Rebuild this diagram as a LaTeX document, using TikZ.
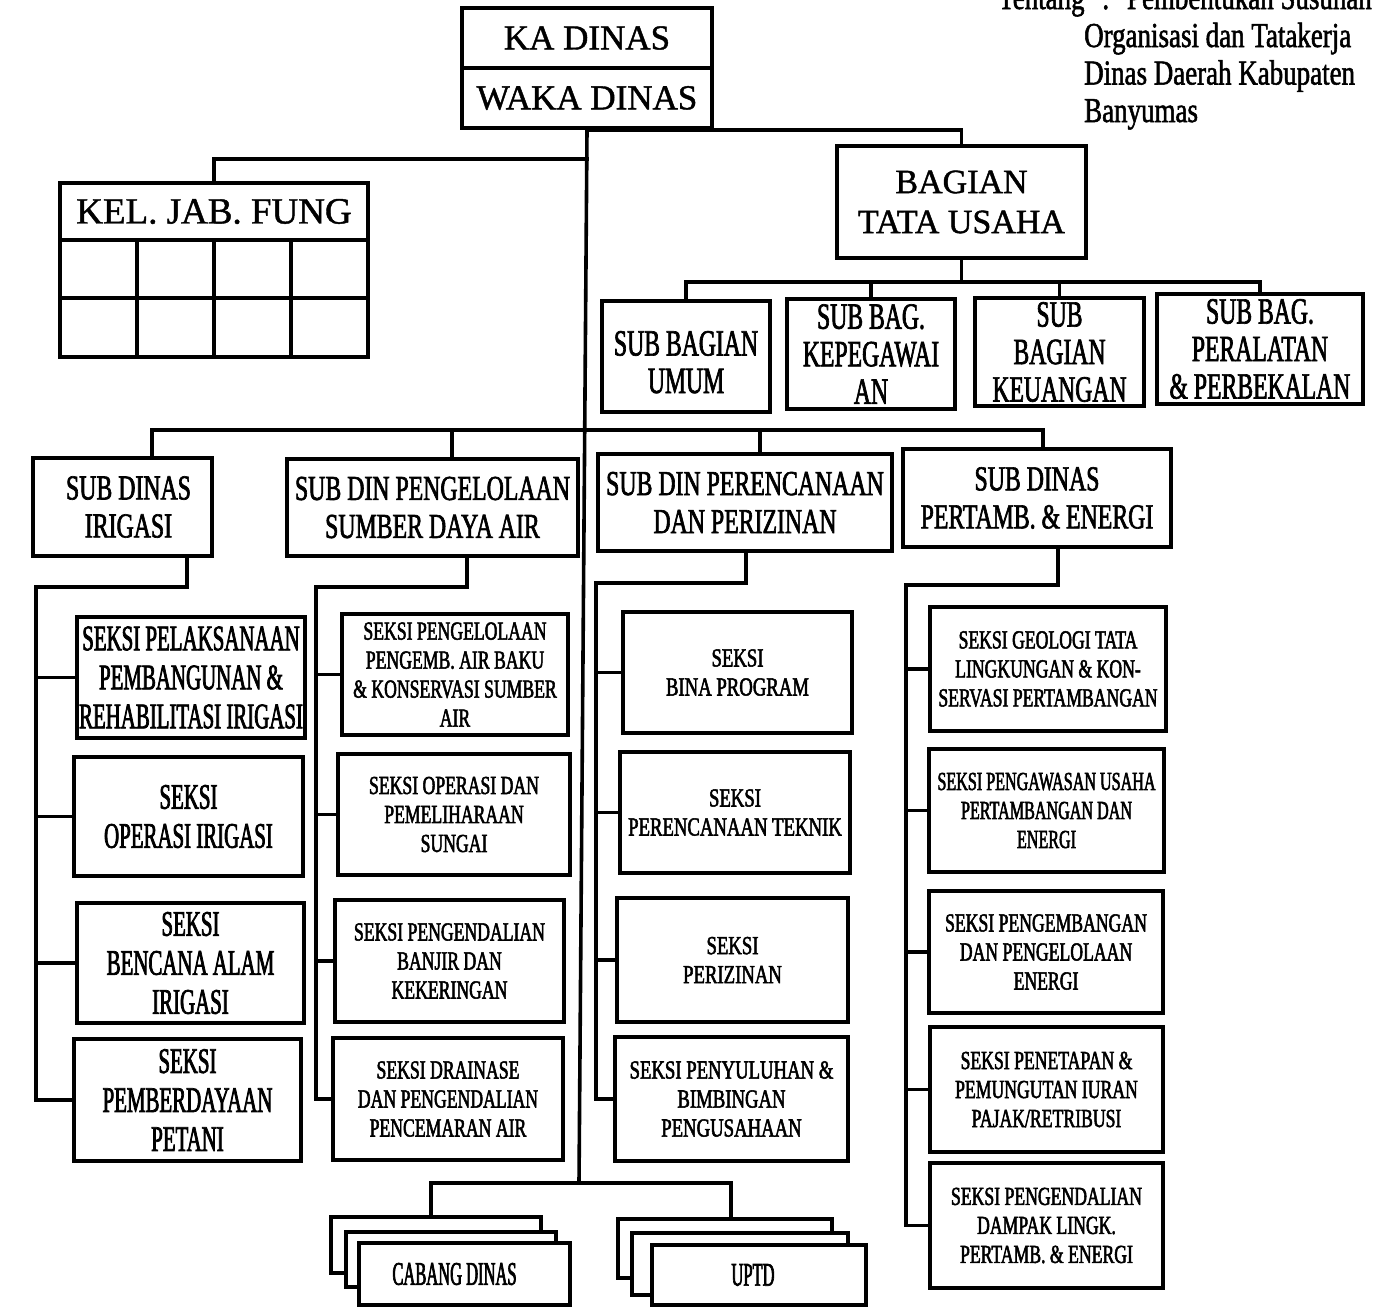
\documentclass[tikz,border=0pt]{standalone}
\usepackage{fontspec}
\setmainfont{Liberation Serif}
\newfontfamily\fTop{Liberation Serif}[FakeBold=1.2]
\newfontfamily\fSubdin{Liberation Serif}[FakeStretch=0.68,FakeBold=1.8]
\newfontfamily\fSubbag{Liberation Serif}[FakeStretch=0.64,FakeBold=1.8]
\newfontfamily\fSekL{Liberation Serif}[FakeStretch=0.58,FakeBold=2]
\newfontfamily\fSekS{Liberation Serif}[FakeStretch=0.68,FakeBold=2]
\newfontfamily\fSekR{Liberation Serif}[FakeStretch=0.72,FakeBold=2]
\newfontfamily\fSekT{Liberation Serif}[FakeStretch=0.62,FakeBold=2]
\newfontfamily\fCab{Liberation Serif}[FakeStretch=0.5,FakeBold=2]
\newfontfamily\fKet{Liberation Serif}[FakeStretch=0.77,FakeBold=1.5]
\begin{document}
\begin{tikzpicture}[x=1pt,y=-1pt,
  box/.style={draw, line width=4pt, fill=white, inner sep=0pt, align=center},
  wh/.style 2 args={minimum width=#1pt, minimum height=#2pt},
  cell/.style={draw, line width=4pt, inner sep=0pt, minimum width=77pt, minimum height=58.5pt},
  conn/.style={line width=3.6pt, line cap=rect},
  topf/.style={font={\fTop\fontsize{35}{40}\selectfont}},
  kelf/.style={font={\fTop\fontsize{37}{40}\selectfont}},
  tuf/.style={font={\fTop\fontsize{34}{40}\selectfont}},
  subbagf/.style={font={\fSubbag\fontsize{37}{37.5}\selectfont}},
  subdinf/.style={font={\fSubdin\fontsize{35}{38}\selectfont}},
  sekL/.style={font={\fSekL\fontsize{36}{39}\selectfont}},
  sekS/.style={font={\fSekS\fontsize{26}{29}\selectfont}},
  sekR/.style={font={\fSekR\fontsize{26}{29}\selectfont}},
  sekT/.style={font={\fSekT\fontsize{26}{29}\selectfont}},
  cabf/.style={font={\fCab\fontsize{33}{36}\selectfont}},
  ket/.style={inner sep=0pt, font={\fKet\fontsize{35}{38}\selectfont}}
]
\useasboundingbox (0,0) rectangle (1374,1315);
\fill[white] (0,0) rectangle (1374,1315);

% header text
\node[ket, anchor=base east] (ket1) at (1372,9) {Tentang\enspace:\enspace Pembentukan Susunan};
\node[ket, anchor=base west] (ket2) at (1084,47) {Organisasi dan Tatakerja};
\node[ket, anchor=base west] (ket3) at (1084,84.5) {Dinas Daerah Kabupaten};
\node[ket, anchor=base west] (ket4) at (1084,122) {Banyumas};

% top
\node[box, topf, wh={250}{60}] (ka) at (587,38) {KA DINAS};
\node[box, topf, wh={250}{60}] (waka) at (587,98) {WAKA DINAS};
\node[box, kelf, wh={308}{57}] (kel) at (214,211.5) {KEL. JAB. FUNG};
\foreach \c [count=\i] in {98.5,175.5,252.5,329.5} {
  \node[cell] (kca\i) at (\c,269) {};
  \node[cell] (kcb\i) at (\c,327.5) {};
}
\node[box, tuf, wh={249}{112}] (tu) at (961.5,202) {BAGIAN\\TATA USAHA};

% sub bagian
\node[box, subbagf, wh={168}{111}] (umum) at (686,356.5) {\raisebox{-16.5pt}[0pt][0pt]{\begin{tabular}{@{}c@{}}SUB BAGIAN\\UMUM\end{tabular}}};
\node[box, subbagf, wh={168}{110}] (kepeg) at (871,354) {SUB BAG.\\KEPEGAWAI\\AN};
\node[box, subbagf, wh={169}{108}] (keu) at (1059.5,352) {SUB\\BAGIAN\\KEUANGAN};
\node[box, subbagf, wh={206}{110}] (peral) at (1260,349) {SUB BAG.\\PERALATAN\\\& PERBEKALAN};

% sub dinas
\node[box, subdinf, wh={179}{98}] (irig) at (122.5,507) {\hspace*{12pt}SUB DINAS\\\hspace*{12pt}IRIGASI};
\node[box, subdinf, wh={291}{97}] (peng) at (432.5,507.5) {SUB DIN PENGELOLAAN\\SUMBER DAYA AIR};
\node[box, subdinf, wh={294}{97}] (pere) at (745,502.5) {SUB DIN PERENCANAAN\\DAN PERIZINAN};
\node[box, subdinf, wh={268}{98}] (pert) at (1037,498) {SUB DINAS\\PERTAMB. \& ENERGI};

% seksi irigasi
\node[box, sekL, wh={228}{121}] (i1) at (191,677.5) {SEKSI PELAKSANAAN\\PEMBANGUNAN \&\\REHABILITASI IRIGASI};
\node[box, sekL, wh={229}{119}] (i2) at (188.5,816.5) {SEKSI\\OPERASI IRIGASI};
\node[box, sekL, wh={227}{120}] (i3) at (190.5,963) {SEKSI\\BENCANA ALAM\\IRIGASI};
\node[box, sekL, wh={227}{122}] (i4) at (187.5,1100) {SEKSI\\PEMBERDAYAAN\\PETANI};

% seksi pengelolaan
\node[box, sekS, wh={226}{121}] (p1) at (455,674.5) {SEKSI PENGELOLAAN\\PENGEMB. AIR BAKU\\\& KONSERVASI SUMBER\\AIR};
\node[box, sekS, wh={232}{121}] (p2) at (454,814.5) {SEKSI OPERASI DAN\\PEMELIHARAAN\\SUNGAI};
\node[box, sekS, wh={229}{122}] (p3) at (449.5,961) {SEKSI PENGENDALIAN\\BANJIR DAN\\KEKERINGAN};
\node[box, sekS, wh={230}{122}] (p4) at (448,1099) {SEKSI DRAINASE\\DAN PENGENDALIAN\\PENCEMARAN AIR};

% seksi perencanaan
\node[box, sekR, wh={229}{121}] (r1) at (737.5,672.5) {SEKSI\\BINA PROGRAM};
\node[box, sekR, wh={230}{121}] (r2) at (735,812.5) {SEKSI\\PERENCANAAN TEKNIK};
\node[box, sekR, wh={231}{124}] (r3) at (732.5,960) {SEKSI\\PERIZINAN};
\node[box, sekR, wh={233}{124}] (r4) at (731.5,1099) {SEKSI PENYULUHAN \&\\BIMBINGAN\\PENGUSAHAAN};

% seksi pertambangan
\node[box, sekS, wh={236}{124}] (t1) at (1048,669) {SEKSI GEOLOGI TATA\\LINGKUNGAN \& KON-\\SERVASI PERTAMBANGAN};
\node[box, sekT, wh={235}{123}] (t2) at (1046.5,810.5) {SEKSI PENGAWASAN USAHA\\PERTAMBANGAN DAN\\ENERGI};
\node[box, sekS, wh={234}{122}] (t3) at (1046,952) {SEKSI PENGEMBANGAN\\DAN PENGELOLAAN\\ENERGI};
\node[box, sekS, wh={233}{125}] (t4) at (1046.5,1089.5) {SEKSI PENETAPAN \&\\PEMUNGUTAN IURAN\\PAJAK/RETRIBUSI};
\node[box, sekS, wh={233}{125}] (t5) at (1046.5,1225.5) {SEKSI PENGENDALIAN\\DAMPAK LINGK.\\PERTAMB. \& ENERGI};

% cabang dinas & uptd stacks
\node[box, wh={210}{56}] (c1) at (436,1245) {};
\node[box, wh={210}{55}] (c2) at (451,1259.5) {};
\node[box, cabf, wh={211}{62}] (c3) at (464.5,1274) {CABANG DINAS\hspace*{20pt}};
\node[box, wh={214}{59}] (u1) at (725,1248.5) {};
\node[box, wh={216}{62}] (u2) at (740,1264) {};
\node[box, cabf, wh={214}{60}] (u3) at (759,1275) {UPTD\hspace*{12pt}};

% connectors
\coordinate (trbot) at (579,1183);
\coordinate (jk) at (587,159);
\draw[conn] (waka.south) -| (tu.north);
\draw[conn] (waka.south) -- (trbot);
\draw[conn] (kel.north) |- (jk);

\coordinate (busB) at (961.5,282);
\draw[conn] (tu.south) -- (busB);
\draw[conn] (umum.north) |- (busB) -| (peral.north);
\draw[conn] (kepeg.north) -- (kepeg.north |- busB);
\draw[conn] (keu.north) -- (keu.north |- busB);

\coordinate (ba1) at (152,430);
\coordinate (ba2) at (452,430);
\coordinate (ba3) at (760,430);
\coordinate (ba4) at (1043,430);
\draw[conn] (irig.north -| ba1) |- (ba4) -- (pert.north -| ba4);
\draw[conn] (ba2) -- (peng.north -| ba2);
\draw[conn] (ba3) -- (pere.north -| ba3);

% irigasi column
\coordinate (ia) at (187,587);
\coordinate (ib) at (36,587);
\draw[conn] (irig.south -| ia) -- (ia) -- (ib) |- (i4.west);
\foreach \n in {i1,i2,i3} \draw[conn] (ib) |- (\n.west);

% pengelolaan column
\coordinate (pa) at (467,587);
\coordinate (pb) at (316,587);
\draw[conn] (peng.south -| pa) -- (pa) -- (pb) |- (p4.west);
\foreach \n in {p1,p2,p3} \draw[conn] (pb) |- (\n.west);

% perencanaan column
\coordinate (ra) at (746,583);
\coordinate (rb) at (596,583);
\draw[conn] (pere.south -| ra) -- (ra) -- (rb) |- (r4.west);
\foreach \n in {r1,r2,r3} \draw[conn] (rb) |- (\n.west);

% pertambangan column
\coordinate (ta) at (1058,585);
\coordinate (tb) at (906,585);
\draw[conn] (pert.south -| ta) -- (ta) -- (tb) |- (t5.west);
\foreach \n in {t1,t2,t3,t4} \draw[conn] (tb) |- (\n.west);

% bottom
\coordinate (cl) at (431,1183);
\coordinate (cr) at (731,1183);
\draw[conn] (c1.north -| cl) |- (cr) -- (u1.north -| cr);
\end{tikzpicture}
\end{document}
